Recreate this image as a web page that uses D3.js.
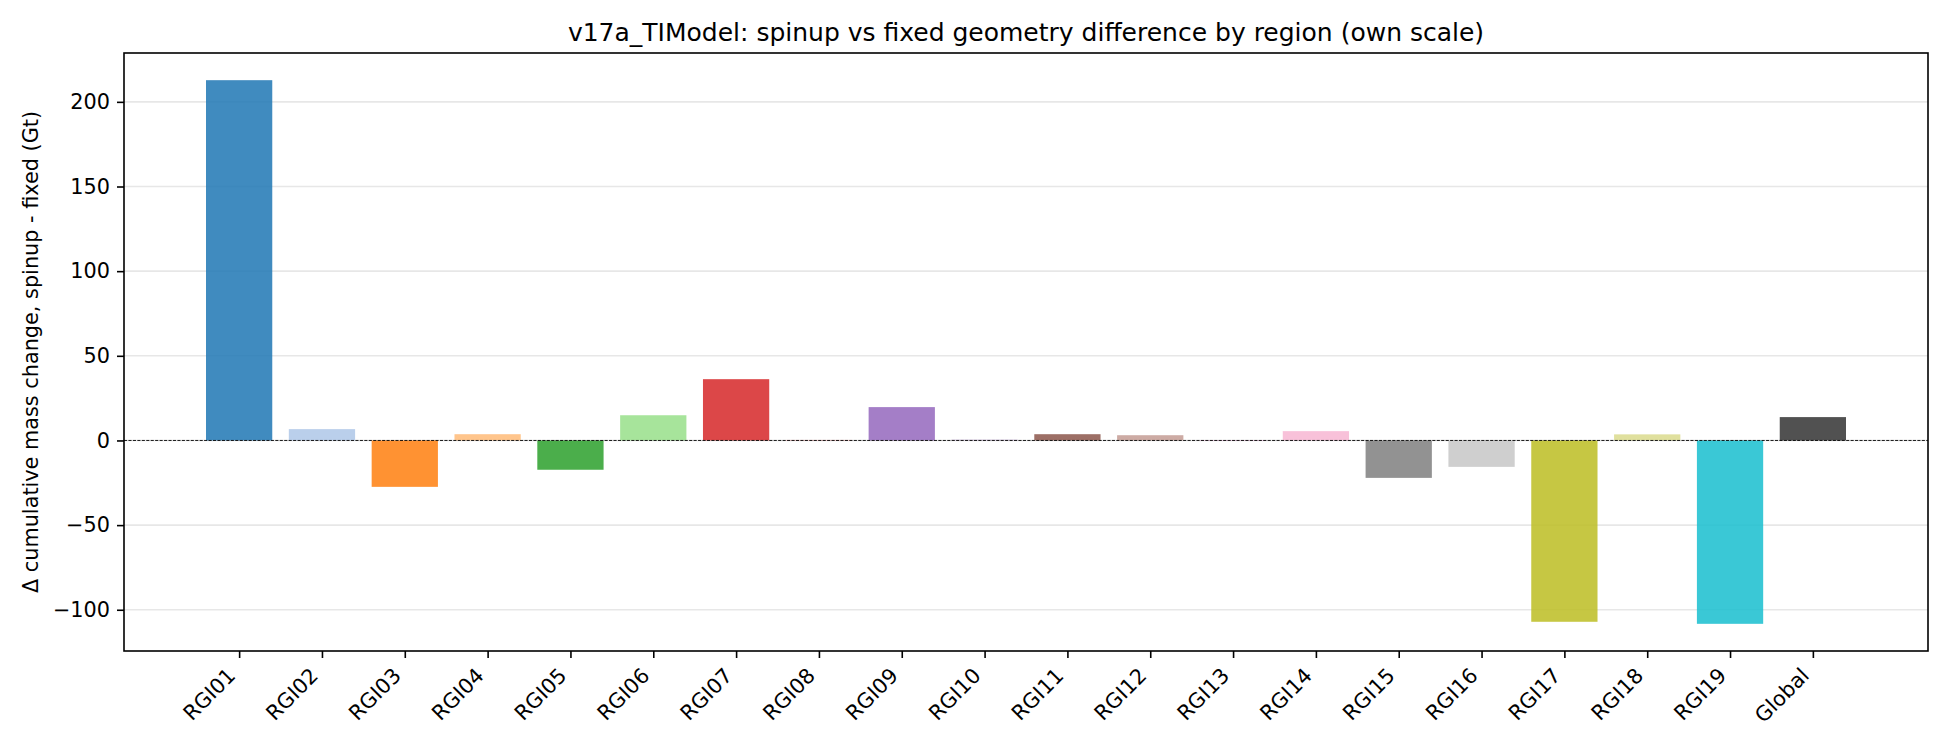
<!DOCTYPE html>
<html>
<head>
<meta charset="utf-8">
<script src="https://cdn.jsdelivr.net/npm/d3@7"></script>
<style>
  body { margin: 0; background: #fff; }
  text { font-family: "DejaVu Sans", sans-serif; fill: #000; }
</style>
</head>
<body>
<div id="chart"></div>
<script>
// Dados
const regions = ["RGI01", "RGI02", "RGI03", "RGI04", "RGI05", "RGI06", "RGI07", "RGI08", "RGI09", "RGI10",
                 "RGI11", "RGI12", "RGI13", "RGI14", "RGI15", "RGI16", "RGI17", "RGI18", "RGI19", "Global"];
const deltaGt = [212.8, 6.7, -27.4, 3.7, -17.3, 14.9, 36.2, 0.3, 19.7, 0.5,
                 3.7, 3.1, 0.2, 5.5, -22.1, -15.6, -107.1, 3.6, -108.3, 13.8];
const barColors = ["#1f77b4", "#aec7e8", "#ff7f0e", "#ffbb78", "#2ca02c", "#98df8a", "#d62728", "#ff9896",
                   "#9467bd", "#c5b0d5", "#8c564b", "#c49c94", "#e377c2", "#f7b6d2", "#7f7f7f", "#c7c7c7",
                   "#bcbd22", "#dbdb8d", "#17becf", "#333333"];
const yTicks = [-100, -50, 0, 50, 100, 150, 200];

const W = 1950, H = 750;
const margin = {top: 53, right: 22, bottom: 99, left: 124};
const width = W - margin.left - margin.right;
const height = H - margin.top - margin.bottom;

const svg = d3.select("#chart").append("svg")
    .attr("width", W)
    .attr("height", H);

const g = svg.append("g")
    .attr("transform", `translate(${margin.left},${margin.top})`);

const data = regions.map((r, i) => ({region: r, i: i, value: deltaGt[i], color: barColors[i]}));

// Escalas (margens de 5% como no matplotlib)
const barW = 0.8;
const xPad = (data.length - 1 + barW) * 0.05;
const x = d3.scaleLinear()
    .domain([-barW / 2 - xPad, data.length - 1 + barW / 2 + xPad])
    .range([0, width]);

const yMin = Math.min(0, d3.min(deltaGt)), yMax = Math.max(0, d3.max(deltaGt));
const yPad = (yMax - yMin) * 0.05;
const y = d3.scaleLinear()
    .domain([yMin - yPad, yMax + yPad])
    .range([height, 0]);

// Grade
g.append("g")
    .selectAll("line")
    .data(yTicks)
    .join("line")
    .attr("x1", 0).attr("x2", width)
    .attr("y1", d => y(d)).attr("y2", d => y(d))
    .attr("stroke", "#b0b0b0")
    .attr("stroke-opacity", 0.3)
    .attr("stroke-width", 1.6);

// Barras
g.append("g")
    .selectAll("rect")
    .data(data)
    .join("rect")
    .attr("x", d => x(d.i - barW / 2))
    .attr("width", d => x(d.i + barW / 2) - x(d.i - barW / 2))
    .attr("y", d => y(Math.max(0, d.value)))
    .attr("height", d => Math.abs(y(d.value) - y(0)))
    .attr("fill", d => d.color)
    .attr("fill-opacity", 0.85);

// Linha do zero
g.append("line")
    .attr("x1", 0).attr("x2", width)
    .attr("y1", y(0)).attr("y2", y(0))
    .attr("stroke", "#000")
    .attr("stroke-width", 0.9)
    .attr("stroke-dasharray", "3.1,1.35");

// Eixos
const yAxis = g.append("g")
    .call(d3.axisLeft(y).tickValues(yTicks).tickSize(7).tickPadding(7)
        .tickFormat(d => d < 0 ? "\u2212" + Math.abs(d) : d));
yAxis.select(".domain").remove();
yAxis.selectAll(".tick line").attr("stroke", "#000").attr("stroke-width", 1.6);
yAxis.selectAll(".tick text").attr("font-size", "20.8px").attr("font-family", "DejaVu Sans");

const xAxis = g.append("g")
    .attr("transform", `translate(0,${height})`)
    .call(d3.axisBottom(x).tickValues(d3.range(data.length)).tickSize(7).tickFormat(i => regions[i]));
xAxis.select(".domain").remove();
xAxis.selectAll(".tick line").attr("stroke", "#000").attr("stroke-width", 1.6);
xAxis.selectAll(".tick text")
    .attr("font-size", "20.8px")
    .attr("font-family", "DejaVu Sans")
    .attr("text-anchor", "end")
    .attr("y", 0).attr("dy", 0)
    .attr("transform", "translate(-3,26) rotate(-45)");

// Moldura
g.append("rect")
    .attr("width", width).attr("height", height)
    .attr("fill", "none")
    .attr("stroke", "#000")
    .attr("stroke-width", 1.6);

// Títulos
svg.append("text")
    .attr("x", margin.left + width / 2)
    .attr("y", margin.top - 12.5)
    .attr("text-anchor", "middle")
    .attr("font-size", "25px")
    .text("v17a_TIModel: spinup vs fixed geometry difference by region (own scale)");

svg.append("text")
    .attr("transform", `translate(37.5,${margin.top + height / 2}) rotate(-90)`)
    .attr("text-anchor", "middle")
    .attr("font-size", "20.8px")
    .text("Δ cumulative mass change, spinup - fixed (Gt)");
</script>
</body>
</html>
